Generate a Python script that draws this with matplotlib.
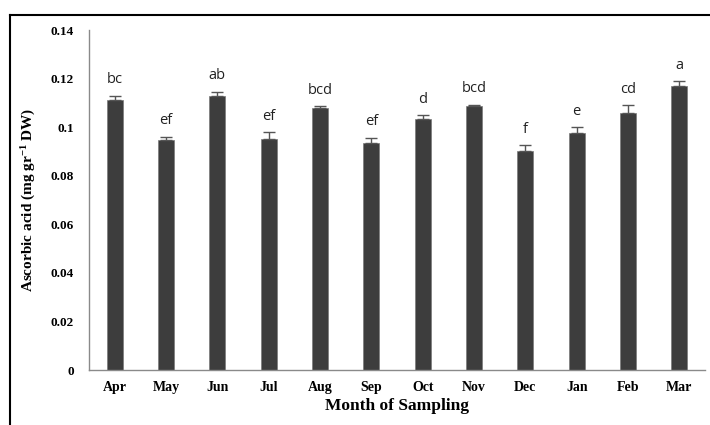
import matplotlib.pyplot as plt
from matplotlib.lines import Line2D
import numpy as np

# ── Data ──────────────────────────────────────────────────────────────────
months  = ["Apr", "May", "Jun", "Jul", "Aug", "Sep", "Oct", "Nov", "Dec", "Jan", "Feb", "Mar"]
values  = [0.1112, 0.0947, 0.1128, 0.0951, 0.1079, 0.0935, 0.1034, 0.1087, 0.0902, 0.0976, 0.1058, 0.1170]
errors  = [0.0017, 0.0014, 0.0018, 0.0028, 0.0008, 0.0022, 0.0014, 0.0006, 0.0025, 0.0023, 0.0032, 0.0020]
letters = ["bc", "ef", "ab", "ef", "bcd", "ef", "d", "bcd", "f", "e", "cd", "a"]
yticks  = [0, 0.02, 0.04, 0.06, 0.08, 0.1, 0.12, 0.14]
ytick_labels = ["0", "0.02", "0.04", "0.06", "0.08", "0.1", "0.12", "0.14"]

SERIF = "Liberation Serif"
plt.rcParams["mathtext.fontset"] = "custom"
plt.rcParams["mathtext.rm"] = SERIF + ":bold"
plt.rcParams["mathtext.it"] = SERIF + ":bold"
plt.rcParams["mathtext.default"] = "rm"

fig = plt.figure(figsize=(7.1, 4.25), dpi=100)
ax = fig.add_axes([0.1254, 0.1294, 0.8676, 0.800])

x = np.arange(len(months))
ax.bar(x, values, width=0.31, color="#3d3d3d", edgecolor="#7a7a7a", linewidth=0.5, zorder=2)
ax.errorbar(x, values, yerr=[np.zeros(len(errors)), errors], fmt="none",
            ecolor="#555555", elinewidth=1.0, capsize=4, capthick=1.0, zorder=3)

for xi, v, e, lab in zip(x, values, errors, letters):
    ax.annotate(lab, (xi, v + e), xytext=(0, 6), textcoords="offset points",
                ha="center", va="bottom", fontsize=10.5, family="Open Sans", color="#222222")

ax.set_xlim(-0.5, len(months) - 0.5)
ax.set_ylim(0, 0.14)
ax.set_yticks(yticks)
ax.set_yticklabels(ytick_labels, family=SERIF, fontweight="bold", fontsize=9.5)
ax.set_xticks(x)
ax.set_xticklabels(months, family=SERIF, fontweight="bold", fontsize=10)
ax.tick_params(axis="y", length=0, pad=11)
ax.tick_params(axis="x", length=0, pad=8)

for s in ["top", "right"]:
    ax.spines[s].set_visible(False)
for s in ["left", "bottom"]:
    ax.spines[s].set_color("#8a8a8a")
    ax.spines[s].set_linewidth(1.0)

ax.set_xlabel("Month of Sampling", family=SERIF, fontweight="bold", fontsize=12.5, labelpad=3)
ax.set_ylabel(r"Ascorbic acid (mg gr$^{-1}$ DW)", family=SERIF, fontweight="bold",
              fontsize=11, labelpad=9)

# outer frame (left and top edges visible)
fig.add_artist(Line2D([0.014, 0.014], [0.0, 0.965], color="black", lw=1.5, transform=fig.transFigure))
fig.add_artist(Line2D([0.014, 1.0], [0.965, 0.965], color="black", lw=1.5, transform=fig.transFigure))

plt.savefig("out.png", dpi=100)
